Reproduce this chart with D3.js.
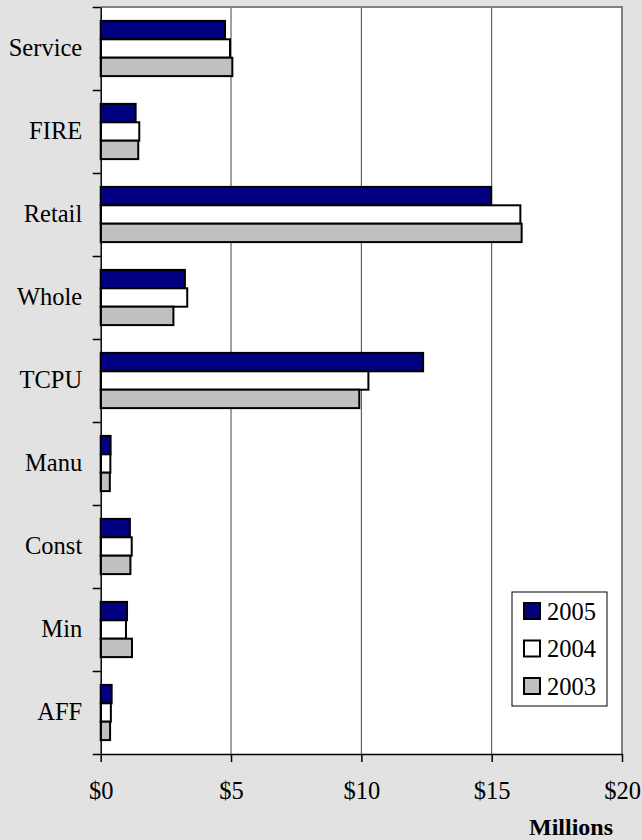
<!DOCTYPE html>
<meta charset="utf-8">
<script src="https://d3js.org/d3.v7.min.js"></script>
<style>
  body { margin: 0; background: #e2e2e2; }
</style>
<div id="my_dataviz"></div>
<script>

// data (millions of $)
var categories = ["Service", "FIRE", "Retail", "Whole", "TCPU", "Manu", "Const", "Min", "AFF"];
var years = ["2005", "2004", "2003"];
var values2005 = [4.77, 1.34, 14.98, 3.23, 12.37, 0.38, 1.12, 1.01, 0.42];
var values2004 = [4.96, 1.48, 16.10, 3.32, 10.27, 0.37, 1.19, 0.97, 0.39];
var values2003 = [5.05, 1.44, 16.15, 2.79, 9.92, 0.35, 1.14, 1.20, 0.36];
var xTicks = [0, 5, 10, 15, 20];

var series = { "2005": values2005, "2004": values2004, "2003": values2003 };
var colors = { "2005": "#000080", "2004": "#ffffff", "2003": "#c0c0c0" };
var serif = "'Liberation Serif', serif";

var W = 642, H = 840;
var margin = {top: 7, right: 20, bottom: 86, left: 100.7},
  width = W - margin.left - margin.right,
  height = H - margin.top - margin.bottom;

var svg = d3.select("#my_dataviz")
  .append("svg")
    .attr("width", W)
    .attr("height", H)
  .append("g")
    .attr("transform", "translate(" + margin.left + "," + margin.top + ")");

// scales
var x = d3.scaleLinear().domain([0, 20]).range([0, width]);
var y = d3.scaleBand().domain(categories).range([0, height]).padding(0);
var yIn = d3.scaleBand().domain(years).range([0, y.bandwidth()])
  .paddingInner(0).paddingOuter(0.755);

// plot area
svg.append("rect")
  .attr("width", width).attr("height", height)
  .style("fill", "white");

// gridlines
svg.append("g")
  .selectAll("line")
  .data(xTicks.filter(function(d) { return d > 0 && d < 20; }))
  .enter().append("line")
    .attr("x1", function(d) { return x(d); })
    .attr("x2", function(d) { return x(d); })
    .attr("y1", 0).attr("y2", height)
    .style("stroke", "#444")
    .style("stroke-width", 1);

// top and right border
svg.append("path")
  .attr("d", "M0,0H" + width + "V" + height)
  .style("fill", "none")
  .style("stroke", "#808080")
  .style("stroke-width", 2);

// bars
var rows = [];
categories.forEach(function(c, i) {
  years.forEach(function(yr) { rows.push({cat: c, year: yr, value: series[yr][i]}); });
});

svg.selectAll(".bar")
  .data(rows)
  .enter().append("rect")
    .attr("class", "bar")
    .attr("x", x(0))
    .attr("y", function(d) { return y(d.cat) + yIn(d.year); })
    .attr("width", function(d) { return x(d.value) - x(0); })
    .attr("height", yIn.bandwidth())
    .style("fill", function(d) { return colors[d.year]; })
    .style("stroke", "black")
    .style("stroke-width", 2);

// x axis
var xAxis = svg.append("g")
  .attr("transform", "translate(0," + height + ")")
  .call(d3.axisBottom(x).tickValues(xTicks).tickFormat(function(d) { return "$" + d; })
    .tickSize(8).tickSizeOuter(0).tickPadding(19.6));
xAxis.attr("font-family", "Liberation Serif").attr("font-size", null);
xAxis.selectAll("text")
  .style("font-family", serif)
  .style("font-size", "24.5px")
  .style("fill", "black");
xAxis.selectAll("line, path").style("stroke", "black").style("stroke-width", 1.5);

// y axis: ticks between categories
var yEdge = d3.scaleLinear().domain([0, categories.length]).range([0, height]);
var yTickAxis = svg.append("g")
  .call(d3.axisLeft(yEdge).tickValues(d3.range(categories.length + 1))
    .tickFormat("").tickSize(8).tickSizeOuter(0));
yTickAxis.selectAll("line, path").style("stroke", "black").style("stroke-width", 1.5);

// y axis labels
var yLabels = svg.append("g")
  .call(d3.axisLeft(y).tickSize(0).tickPadding(18.5));
yLabels.attr("font-family", "Liberation Serif").attr("font-size", null);
yLabels.select(".domain").remove();
yLabels.selectAll("text")
  .style("font-family", serif)
  .style("font-size", "24.5px")
  .style("fill", "black");

// axis title
svg.append("text")
  .attr("x", 613 - margin.left)
  .attr("y", 835 - margin.top)
  .attr("text-anchor", "end")
  .style("font-family", serif)
  .style("font-size", "24px")
  .style("font-weight", "bold")
  .text("Millions");

// legend
var legend = svg.append("g")
  .attr("transform", "translate(" + (512 - margin.left) + "," + (592 - margin.top) + ")");
legend.append("rect")
  .attr("width", 95).attr("height", 114)
  .style("fill", "white")
  .style("stroke", "black")
  .style("stroke-width", 1);
years.forEach(function(yr, i) {
  var g = legend.append("g").attr("transform", "translate(0," + (19 + i * 37.5) + ")");
  g.append("rect")
    .attr("x", 12).attr("y", -8)
    .attr("width", 16).attr("height", 16)
    .style("fill", colors[yr])
    .style("stroke", "black")
    .style("stroke-width", 2);
  g.append("text")
    .attr("x", 35).attr("y", 0)
    .attr("dy", "0.35em")
    .style("font-family", serif)
    .style("font-size", "24.5px")
    .text(yr);
});

</script>
